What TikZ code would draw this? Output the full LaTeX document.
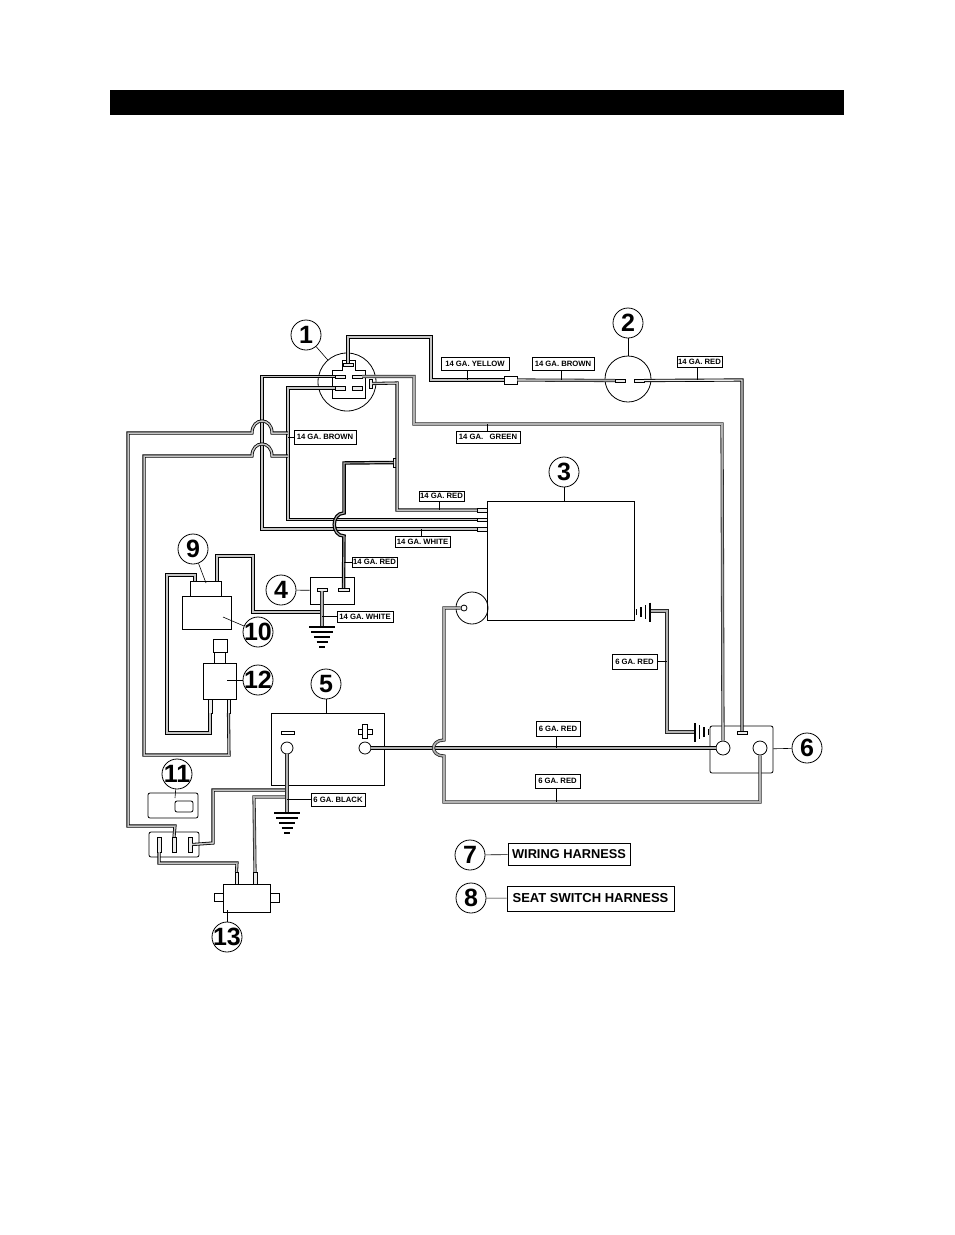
\documentclass[tikz,border=0pt]{standalone}
\usepackage{fontspec}
\setmainfont{Liberation Sans}
\tikzstyle{part}=[rectangle,draw=black,thick,inner sep=0pt]
\tikzstyle{roundpart}=[rectangle,rounded corners=2pt,draw=black,thick,inner sep=0pt]
\tikzstyle{bolt}=[circle,draw=black,thick,fill=white,inner sep=0pt]
\tikzstyle{term}=[rectangle,draw=black,fill=gray!15,inner sep=0pt]
\tikzstyle{callout}=[circle,draw=black,thick,fill=white,minimum size=30pt,inner sep=-3pt,font=\fontsize{25}{25}\selectfont\bfseries]
\tikzstyle{gauge}=[rectangle,draw=black,thick,fill=white,inner sep=0pt,font=\fontsize{7.7}{9}\selectfont\bfseries]
\tikzstyle{harness}=[rectangle,draw=black,thick,fill=white,inner sep=0pt,font=\fontsize{12.8}{13}\selectfont\bfseries]
\tikzstyle{wire}=[draw=black,line width=.8pt,double=gray!45,double distance=1.5pt]
\tikzstyle{lightwire}=[draw=black,line width=.9pt,double=gray!15,double distance=1.4pt]
\tikzstyle{darkwire}=[draw=black!85,line width=.8pt,double=gray!60,double distance=1.6pt]
\tikzstyle{heavywire}=[draw=black,line width=1.2pt,double=gray!60,double distance=1.1pt]
\tikzstyle{leader}=[draw=black,semithick]
\begin{document}
\begin{tikzpicture}[x=1pt,y=-1pt]
\useasboundingbox (0,0) rectangle (954,1235);

    % First we draw the parts
    \node[rectangle,fill=black,minimum width=734pt,minimum height=25pt,inner sep=0pt] (bar) at (477,102.5) {};
    \node[circle,draw=black,thick,minimum size=58pt,inner sep=0pt] (sw1) at (347,382) {};
    \node[circle,draw=black,thick,minimum size=46pt,inner sep=0pt] (rel2) at (628,379) {};
    \node[circle,draw=black,thick,minimum size=32pt,inner sep=0pt] (mot3) at (472,608) {};
    \draw[thick] (332,370) -- (342,370) -- (342,360) -- (355,360) -- (355,370) -- (365,370) -- (365,398) -- (332,398) -- cycle;

    \foreach \pos/\name/\w/\h in {{(560.5,560.5)/box3/147/119}, {(332,590.5)/box4/44/27}, {(327.5,749)/box5/113/72}, {(205.5,588.5)/box9/31/15}, {(206.5,612.5)/box10/49/33}, {(220,645.5)/top12/14/13}, {(219.5,657.5)/neck12/11/11}, {(219.5,681)/box12/33/36}, {(246.5,898)/box13/47/28}, {(218.5,897)/tabL/9/8}, {(274.5,897.5)/tabR/9/9}, {(510.5,380)/jY/13/8}}
        \node[part] (\name) at \pos [minimum width=\w pt,minimum height=\h pt] {};

    \foreach \pos/\name/\w/\h in {{(741.5,749.5)/box6/63/47}, {(173,805.5)/box11/50/25}, {(184,806.5)/win11/18/11}, {(174,844.5)/plug/50/25}}
        \node[roundpart] (\name) at \pos [minimum width=\w pt,minimum height=\h pt] {};

    % Terminals on the parts
    \foreach \pos/\name/\w/\h in {{(348,364.5)/tTop/10/3}, {(340,376.5)/tA/10/3}, {(357,376.5)/tB/10/3}, {(340,388)/tC/10/4}, {(357,388)/tD/10/4}, {(370.5,383.5)/tSide/3/9}, {(620,380.5)/tG/10/3}, {(639,380.5)/tH/10/3}, {(482,510)/tR/10/4}, {(482,519.5)/tM/10/3}, {(482,529)/tW/10/4}, {(322,589.5)/tN/10/3}, {(343.5,589.5)/tP/11/3}, {(742,732.5)/tS/10/3}, {(210,706)/leg12a/4/14}, {(228.5,706)/leg12b/3/14}, {(159,844.5)/tU/4/15}, {(174,844.5)/tV/4/15}, {(190,844.5)/tZ/4/15}, {(236.5,878)/leg13a/3/12}, {(255,878)/leg13b/4/12}, {(395.5,462.5)/tJ/4/9}}
        \node[term] (\name) at \pos [minimum width=\w pt,minimum height=\h pt] {};

    \foreach \pos/\name/\s in {{(723,748)/bolt6a/14}, {(760,748)/bolt6b/14}, {(287,748)/bolt5m/12}, {(365,748)/bolt5p/12}, {(464,608)/bolt3/6}}
        \node[bolt] (\name) at \pos [minimum size=\s pt] {};

    \node[part,fill=white,minimum width=13pt,minimum height=3pt] (minus5) at (287.5,732.5) {};
    \node[part,fill=white,minimum width=14pt,minimum height=5pt] (plusH) at (365,731.5) {};
    \node[part,fill=white,minimum width=5pt,minimum height=14pt] (plusV) at (365,731.5) {};
    \node[fill=white,minimum width=4pt,minimum height=4pt,inner sep=0pt] (plusC) at (365,731.5) {};

    % Free ends of the wires
    \coordinate (in9a) at (195,581);
    \coordinate (in9b) at (217,581);
    \coordinate (gnd4) at (322,627);
    \coordinate (gnd5) at (287,813);
    \coordinate (gnd3) at (650,611);
    \coordinate (gnd6) at (695,732);
    \coordinate (bus5a) at (287,790);
    \coordinate (bus5b) at (287,797);
    \coordinate (tee4) at (322,612);

    % Connect the parts with wires
    \draw[wire] (tTop.north) -- (348,337) -- (431,337) -- (431,380) -- (jY.west);
    \draw[darkwire] (jY.east) -- (tG.west);
    \draw[lightwire] (tH.east) -- (742,380) -- (tS.north);
    \draw[darkwire] (tB.east) -- (414,376.5) -- (414,424) -- (722,424) -- (bolt6a.north);
    \draw[wire] (tA.west) -- (262,376.5) -- (262,529) -- (tW.west);
    \draw[wire] (tC.west) -- (288,388) -- (288,519.5) -- (tM.west);
    \draw[wire] (tSide.east) -- (397,383) -- (397,510) -- (tR.west);
    \draw[wire] (in9b) -- (217,556) -- (253,556) -- (253,612) -- (tee4);
    \draw[wire] (in9a) -- (195,575) -- (167,575) -- (167,733) -- (210,733) -- (leg12a.south);
    \draw[wire] (leg12b.south) -- (229,755) -- (144,755) -- (144,456) -- (252,456) .. controls (252,440) and (272,440) .. (272,456) -- (288,456);
    \draw[wire] (tV.north) -- (175,826) -- (128,826) -- (128,433) -- (252,433) .. controls (252,417) and (272,417) .. (272,433) -- (288,433);
    \draw[wire] (tZ.east) -- (213,843) -- (213,790) -- (bus5a);
    \draw[darkwire] (leg13b.north) -- (254,797) -- (bus5b);
    \draw[wire] (tU.south) -- (159,863) -- (237,863) -- (leg13a.north);
    \draw[darkwire] (tN.south) -- (gnd4);
    \draw[darkwire] (bolt5m.south) -- (gnd5);
    \draw[heavywire] (tJ.west) -- (344,463) -- (344,513) .. controls (331,513) and (331,536) .. (344,536) -- (tP.north);
    \draw[heavywire] (bolt5p.east) -- (bolt6a.west);
    \draw[darkwire] (gnd3) -- (667,611) -- (667,732) -- (gnd6);
    \draw[darkwire] (bolt6b.south) -- (760,802) -- (444,802) -- (444,756) .. controls (430,756) and (430,740) .. (444,740) -- (444,608) -- (bolt3.west);

    % Ground symbols
    \foreach \cx/\cy in {322/627, 287/813}
        \foreach \d/\b in {0/13, 5/11, 10/8, 15/5.5, 20/3}
            \draw[line width=1.5pt,shift={(\cx,\cy)}] (-\b,\d) -- (\b,\d);
    \foreach \cx/\cy/\rot in {650/612/-90, 695/732/90}
        \foreach \d/\b in {0/9.5, 4.5/7, 9/5, 13.5/3}
            \draw[line width=1.5pt,shift={(\cx,\cy)},rotate=\rot] (-\b,\d) -- (\b,\d);

    % Gauge labels
    \foreach \pos/\name/\w/\h/\label in {{(475,363.5)/lbY/68/13/14 GA. YELLOW}, {(563,363.5)/lbB/62/13/14 GA. BROWN}, {(699.5,361.5)/lbRa/45/11/14 GA. RED}, {(488,437)/lbGr/64/12/14 GA.\ \ \ GREEN}, {(325,437)/lbBr/62/14/14 GA. BROWN}, {(441.5,496)/lbRb/45/10/14 GA. RED}, {(422.5,541.5)/lbWa/55/11/14 GA. WHITE}, {(374.5,562)/lbRc/45/10/14 GA. RED}, {(365,616.5)/lbWb/56/11/14 GA. WHITE}, {(634.5,661.5)/lbRd/45/15/6 GA. RED}, {(558,728.5)/lbRe/44/15/6 GA. RED}, {(557.5,781)/lbRf/45/14/6 GA. RED}, {(338,799.5)/lbK/54/13/6 GA. BLACK}}
        \node[gauge] (\name) at \pos [minimum width=\w pt,minimum height=\h pt] {\label};

    \coordinate (tapY) at (467,380);
    \coordinate (tapB) at (561,380);
    \coordinate (tapRa) at (697,380);
    \coordinate (tapGr) at (487,424);
    \coordinate (tapRb) at (439,510);
    \coordinate (tapWa) at (421,529);
    \coordinate (tapRe) at (556,748);
    \coordinate (tapRf) at (556,802);
    \coordinate (tapBr) at (288,437);
    \coordinate (tapRc) at (344,562);
    \coordinate (tapWb) at (322,616.5);
    \coordinate (tapRd) at (667,661.5);
    \coordinate (tapK) at (287,799.5);

    \foreach \source/\dest in {lbY/tapY, lbB/tapB, lbRa/tapRa, lbRb/tapRb, lbRe/tapRe, lbRf/tapRf}
        \path[leader] (\dest |- \source.south) -- (\dest);
    \foreach \source/\dest in {lbGr/tapGr, lbWa/tapWa}
        \path[leader] (\dest |- \source.north) -- (\dest);
    \foreach \source/\dest in {lbBr/tapBr, lbRc/tapRc, lbWb/tapWb, lbK/tapK}
        \path[leader] (\source.west) -- (\dest);
    \path[leader] (lbRd.east) -- (tapRd);

    % Harness legend
    \node[harness,minimum width=122pt,minimum height=22pt] (lgW) at (569,854) {WIRING HARNESS};
    \node[harness,minimum width=167pt,minimum height=25pt,font=\fontsize{13}{14}\selectfont\bfseries] (lgS) at (590.5,898.5) {SEAT SWITCH HARNESS};

    % Number circles and their leaders
    \foreach \pos/\name/\label in {{(306,335)/n1/1}, {(628,323)/n2/2}, {(564,472)/n3/3}, {(281,590)/n4/4}, {(326,684)/n5/5}, {(807,748)/n6/6}, {(470,855)/n7/7}, {(471,898)/n8/8}, {(193,549)/n9/9}, {(258,632)/n10/10}, {(177,774)/n11/11}, {(258,680)/n12/12}, {(227,937)/n13/13}}
        \node[callout] (\name) at \pos {\label};

    \coordinate (in9) at (206,583);
    \coordinate (in10) at (223,617);
    \coordinate (in11) at (175,798);
    \coordinate (in12) at (227,680);
    \coordinate (in13) at (227,910);
    \foreach \source/\dest in {n1/sw1, n2/rel2, n4/box4, n6/box6, n7/lgW, n8/lgS, n9/in9, n10/in10, n11/in11, n12/in12, n13/in13}
        \path[leader] (\source) -- (\dest);
    \path[leader] (n3.south) -- (n3.south |- box3.north);
    \path[leader] (n5.south) -- (n5.south |- box5.north);

\end{tikzpicture}
\end{document}
